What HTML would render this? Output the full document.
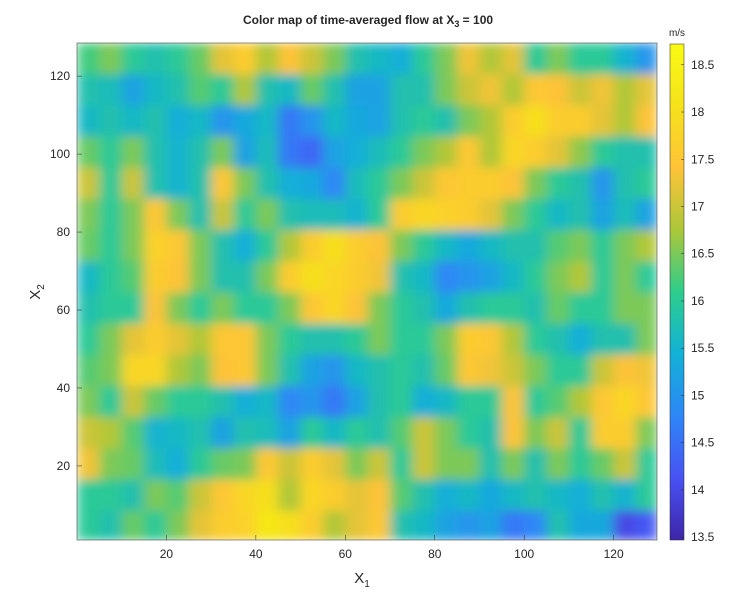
<!DOCTYPE html>
<html><head><meta charset="utf-8">
<style>
body{margin:0;background:#fff;font-family:"Liberation Sans",Arial,sans-serif;}
svg text{font-family:"Liberation Sans",Arial,sans-serif;fill:#262626;}
</style></head>
<body>
<svg id="chart" width="740" height="605" viewBox="0 0 740 605" xmlns="http://www.w3.org/2000/svg">
<defs>
<clipPath id="pc"><rect x="77" y="43" width="580" height="497"/></clipPath>
<filter id="bl" x="0" y="0" width="1" height="1"><feGaussianBlur stdDeviation="6 5" edgeMode="duplicate"/></filter>
<linearGradient id="cbg" x1="0" y1="1" x2="0" y2="0">
<stop offset="0" stop-color="rgb(62,38,168)"/><stop offset="0.125" stop-color="rgb(72,82,244)"/><stop offset="0.25" stop-color="rgb(46,135,247)"/><stop offset="0.375" stop-color="rgb(18,177,214)"/><stop offset="0.5" stop-color="rgb(45,205,140)"/><stop offset="0.625" stop-color="rgb(171,199,57)"/><stop offset="0.75" stop-color="rgb(254,195,56)"/><stop offset="0.875" stop-color="rgb(245,226,26)"/><stop offset="1" stop-color="rgb(249,251,20)"/>
</linearGradient>
</defs>
<text x="368" y="24" text-anchor="middle" font-size="12" font-weight="bold" fill="#000">Color map of time-averaged flow at X<tspan font-size="9" dy="3">3</tspan><tspan dy="-3"> = 100</tspan></text>
<g id="cells" clip-path="url(#pc)"><g id="cellsInner" filter="url(#bl)"></g></g>
<rect x="77" y="43" width="580" height="497" fill="none" stroke="#262626" stroke-width="0.5"/>
<g id="xticks"></g><g id="yticks"></g>
<text x="362" y="583" text-anchor="middle" font-size="15">X<tspan font-size="10" dy="4">1</tspan></text>
<text transform="translate(40,292) rotate(-90)" text-anchor="middle" font-size="15">X<tspan font-size="10" dy="4">2</tspan></text>
<rect x="670" y="44" width="14" height="496" fill="url(#cbg)" stroke="#262626" stroke-width="0.5"/>
<text x="677" y="36" text-anchor="middle" font-size="10">m/s</text>
<g id="cticks"></g>
</svg>
<script>
const xTicks=[20,40,60,80,100,120];
const yTicks=[20,40,60,80,100,120];
const cTicks=[13.5,14,14.5,15,15.5,16,16.5,17,17.5,18,18.5];
const xEdges=[0,5,10,15,20,25,30,35,40,45,50,55,60,65,70,75,80,85,90,95,100,105,110,115,120,125,129.7];
const yEdges=[128.5,120.5,112.5,104.5,96.5,88.5,80.5,72.5,64.5,56.5,48.5,40.5,32.5,24.5,16.5,8.5,1];
const row0=[16.2,16.5,16.0,15.8,16.0,16.4,17.2,17.6,16.8,17.4,17.0,16.5,15.8,15.6,15.4,16.0,16.5,17.3,16.8,17.2,16.0,16.5,16.0,16.0,15.5,15.0];
const row1=[15.8,15.7,15.2,15.6,15.8,16.3,16.0,16.8,15.8,15.6,16.4,15.8,15.2,15.2,15.8,15.8,16.5,17.0,17.3,16.8,17.5,17.4,17.0,17.3,16.8,17.2];
const row2=[15.6,15.8,15.6,15.8,15.4,15.6,15.0,15.3,15.6,14.6,15.0,15.6,15.3,15.2,15.8,16.0,15.8,16.5,16.8,17.6,18.0,17.6,17.6,17.2,16.8,17.4];
const row3=[16.4,16.0,16.5,15.8,15.5,15.8,16.5,15.2,15.7,14.6,14.4,15.2,15.4,15.7,16.0,16.5,16.8,17.5,16.8,17.8,17.6,17.2,16.6,16.0,15.8,15.8];
const row4=[17.0,16.0,17.0,15.8,15.5,15.8,17.5,16.5,15.8,15.4,15.3,14.8,15.7,16.0,16.5,17.0,17.5,17.6,17.6,17.4,16.5,16.0,15.8,15.0,15.8,16.0];
const row5=[16.5,16.0,16.5,17.5,16.5,15.8,17.0,16.0,16.5,15.8,15.7,15.7,15.5,16.0,17.6,17.8,17.7,17.6,17.2,16.5,16.0,15.6,15.8,15.2,15.7,15.2];
const row6=[16.4,16.0,16.5,17.7,17.5,16.5,15.8,15.4,16.0,16.8,17.6,18.0,17.6,17.4,16.5,16.0,15.6,15.3,15.6,15.8,15.8,16.3,16.5,16.0,16.5,16.8];
const row7=[15.6,16.0,16.3,17.6,17.4,16.5,15.8,15.8,16.5,17.6,18.0,17.8,17.6,17.3,15.8,15.6,14.8,15.0,15.2,15.6,16.0,16.5,16.8,16.0,16.5,16.0];
const row8=[15.8,16.0,16.0,17.4,16.5,16.0,16.5,16.0,16.0,16.5,17.5,17.8,17.4,16.5,16.0,15.8,15.3,15.8,16.0,16.0,15.8,16.4,16.0,16.0,16.5,16.5];
const row9=[16.0,16.5,17.2,17.6,17.2,16.8,17.5,17.5,16.5,16.0,15.8,15.8,16.0,16.5,16.0,16.0,16.5,17.6,17.5,16.8,16.0,15.8,15.4,15.8,15.8,16.5];
const row10=[16.3,16.5,17.8,17.8,16.8,16.5,17.4,17.5,16.5,15.8,15.2,15.0,15.6,15.8,16.0,15.8,16.4,17.5,17.3,17.0,16.5,16.0,16.0,17.0,17.4,17.3];
const row11=[16.5,16.0,17.0,16.4,16.0,16.0,15.8,15.4,15.6,14.8,15.0,14.6,15.2,15.8,16.0,15.4,15.6,16.0,16.0,17.4,16.0,16.3,16.8,17.5,17.8,17.5];
const row12=[17.0,16.8,16.3,15.5,15.6,15.8,15.2,15.8,15.7,15.2,16.0,15.6,16.0,15.8,16.3,17.0,16.5,16.0,15.8,17.4,16.5,17.0,16.0,17.6,17.6,16.5];
const row13=[17.3,16.5,16.4,15.7,15.4,16.0,16.4,16.5,17.5,17.0,17.6,17.2,16.5,17.0,16.0,17.0,16.5,16.5,15.8,16.5,15.8,16.5,16.0,16.4,17.0,16.0];
const row14=[16.0,16.0,15.8,16.5,16.3,17.0,17.5,17.8,18.0,16.8,17.8,17.6,17.2,17.4,16.3,15.8,15.4,15.6,15.3,15.6,15.8,15.6,15.4,15.8,15.5,16.0];
const row15=[16.0,15.8,16.4,16.0,16.5,17.2,17.6,17.7,18.2,18.0,17.6,16.8,17.2,17.5,15.8,15.6,15.2,15.0,15.2,14.6,14.8,15.8,15.3,15.3,14.0,14.2];
const rows=[row0,row1,row2,row3,row4,row5,row6,row7,row8,row9,row10,row11,row12,row13,row14,row15];

const NS="http://www.w3.org/2000/svg";
const X0=77,X1=657,Y0=540,Y1=43;
const xMin=0,xMax=129.7,yMin=1,yMax=128.5,cMin=13.47,cMax=18.72;
function xs(v){return X0+(v-xMin)/(xMax-xMin)*(X1-X0);}
function ys(v){return Y0-(v-yMin)/(yMax-yMin)*(Y0-Y1);}
function cs(v){return 540-(v-cMin)/(cMax-cMin)*496;}
const stops=[[0,[62,38,168]],[0.125,[72,82,244]],[0.25,[46,135,247]],[0.375,[18,177,214]],[0.5,[45,205,140]],[0.625,[171,199,57]],[0.75,[254,195,56]],[0.875,[245,226,26]],[1,[249,251,20]]];
function color(v){let t=(v-cMin)/(cMax-cMin);t=Math.max(0,Math.min(1,t));
for(let i=1;i<stops.length;i++){if(t<=stops[i][0]){const a=stops[i-1],b=stops[i];const f=(t-a[0])/(b[0]-a[0]);
const c=a[1].map((q,k)=>Math.round(q+(b[1][k]-q)*f));return `rgb(${c[0]},${c[1]},${c[2]})`;}}return "rgb(249,251,20)";}
function mk(tag,attrs,parent){const e=document.createElementNS(NS,tag);for(const k in attrs)e.setAttribute(k,attrs[k]);parent.appendChild(e);return e;}
const cg=document.getElementById('cellsInner');
rows.forEach((row,r)=>{row.forEach((v,c)=>{
 const x=xs(xEdges[c]),x2=xs(xEdges[c+1]),y=ys(yEdges[r]),y2=ys(yEdges[r+1]);
 const el=mk('rect',{x:x,y:y,width:x2-x+0.5,height:y2-y+0.5,fill:color(v)},cg);
 
 
});});
const xg=document.getElementById('xticks');
xTicks.forEach(t=>{const x=xs(t);
 const l=mk('line',{x1:x,x2:x,y1:540,y2:535,stroke:'#262626','stroke-width':0.5},xg);
 
 
 const tx=mk('text',{x:x,y:558,'text-anchor':'middle','font-size':12},xg);tx.textContent=t;
 
 
});
const yg=document.getElementById('yticks');
yTicks.forEach(t=>{const y=ys(t);
 const l=mk('line',{x1:77,x2:82,y1:y,y2:y,stroke:'#262626','stroke-width':0.5},yg);
 
 
 const tx=mk('text',{x:70,y:y+4,'text-anchor':'end','font-size':12},yg);tx.textContent=t;
 
 
});
const ctg=document.getElementById('cticks');
cTicks.forEach(t=>{const y=cs(t);
 const l=mk('line',{x1:681,x2:684,y1:y,y2:y,stroke:'#262626','stroke-width':0.5},ctg);
 
 
 const tx=mk('text',{x:691,y:y+4,'font-size':12},ctg);tx.textContent=t;
 
 
});
</script>
</body></html>
